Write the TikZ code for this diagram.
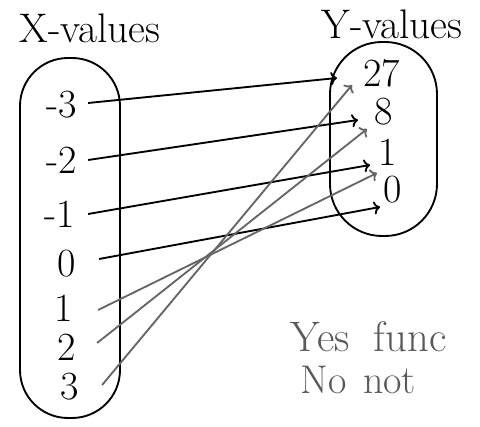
\documentclass[tikz,border=0pt]{standalone}
\usepackage{amsmath}
\usepackage[dvipsnames]{xcolor}
\usepackage{tikz}
\usetikzlibrary{arrows.meta}

\tikzset{
  num/.style={font=\fontsize{30}{34}\selectfont, inner sep=0pt},
  lbl/.style={font=\fontsize{31}{35}\selectfont, inner sep=0pt},
  note/.style={font=\fontsize{32}{36}\selectfont, text=black!65, inner sep=0pt, anchor=base west},
  mapto/.style={->, line width=1.4pt},
  mapback/.style={->, line width=1.4pt, black!60}
}

\begin{document}
\begin{tikzpicture}[x=0.75pt, y=-0.75pt, line width=1.4pt]
      \useasboundingbox (0,0) rectangle (480,427);
      % the two sets
      \draw [rounded corners=36pt] (20,58) rectangle (120,418);
      \draw [rounded corners=39pt] (330,42) rectangle (437,236);
      \node[lbl] (xlbl) at (90,28) {X-values};
      \node[lbl] (ylbl) at (392,24) {Y-values};
      % domain
      \node[num] (xm3) at (62,105) {-3};
      \node[num] (xm2) at (62,160) {-2};
      \node[num] (xm1) at (60,214) {-1};
      \node[num] (x0) at (67,264) {0};
      \node[num] (x1) at (64,308) {1};
      \node[num] (x2) at (67,347) {2};
      \node[num] (x3) at (70,387) {3};
      % range
      \node[num] (y27) at (382,73) {27};
      \node[num] (y8) at (384,112) {8};
      \node[num] (y1) at (388,152) {1};
      \node[num] (y0) at (393,190) {0};
      % x -> x^3
      \draw [mapto] (xm3.east) ++(10,-2) coordinate (s1) -- (337,78) coordinate (e1);
      \draw [mapto] (xm2.east) ++(10,0) coordinate (s2) -- (358,120) coordinate (e2);
      \draw [mapto] (xm1.east) ++(12,0) coordinate (s3) -- (370,165) coordinate (e3);
      \draw [mapto] (x0.east) ++(22,-5) coordinate (s4) -- (380,207) coordinate (e4);
      \draw [mapback] (x1.east) ++(24,2) coordinate (s5) -- (377,173) coordinate (e5);
      \draw [mapback] (x2.east) ++(20,-4) coordinate (s6) -- (367,129) coordinate (e6);
      \draw [mapback] (x3.east) ++(22,-2) coordinate (s7) -- (352,85) coordinate (e7);
      % answer
      \node[note] (yes) at (290,352) {Yes\hspace{18pt}func};
      \node[note, font=\fontsize{30}{34}\selectfont] (no) at (300,394) {No\hspace{12pt}not};
    \end{tikzpicture}
\end{document}
